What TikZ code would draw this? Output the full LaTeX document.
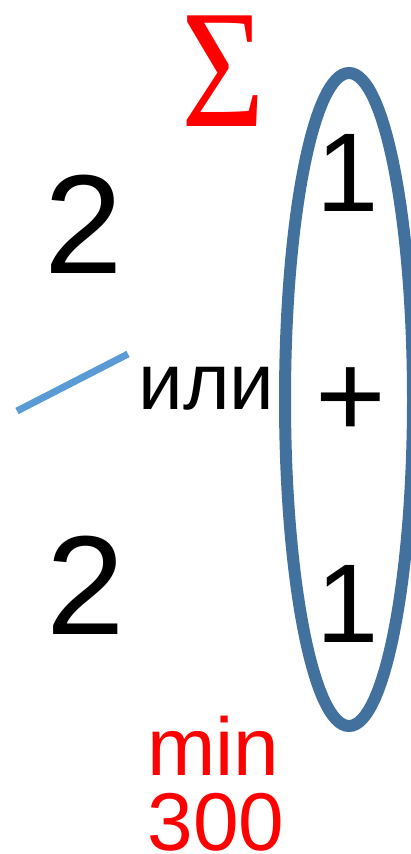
\documentclass[tikz,border=0pt]{standalone}
\usepackage{fontspec}
\setmainfont{Liberation Sans}
\newfontfamily\serifgr{Liberation Serif}
\usepackage{xcolor}
\definecolor{ovalblue}{RGB}{65,113,156}
\definecolor{slashblue}{RGB}{91,155,213}
\begin{document}
\begin{tikzpicture}[x=1pt, y=-1pt]
        \tikzset{digit/.style={inner sep=0, anchor=base, font=\fontsize{#1}{#1}\selectfont},
                 redtxt/.style={inner sep=0, anchor=base, text=red, font=\fontsize{82}{82}\selectfont},
                 oval/.style={ovalblue, line width=12pt}}
        \useasboundingbox (0,0) rectangle (410,854);

        % sum sign
        \node[inner sep=0, anchor=base, text=red, font=\serifgr\fontsize{169}{169}\selectfont] (sigma) at (223,126) {\scalebox{0.85}[1]{Σ}};

        % left column
        \node[digit=141] (twoTop) at (83.5,273) {2};
        \node[digit=141] (twoBot) at (85.5,634) {2};
        \coordinate (slashA) at (17,411);
        \coordinate (slashB) at (128,354);
        \draw[slashblue, line width=7pt] (slashA) -- (slashB);
        \node[digit=80] (ili) at (206.5,409) {или};

        % oval column
        \draw[oval] (349,399.5) ellipse [x radius=64, y radius=326.5];
        \node[digit=112] (oneTop) at (348,211) {1};
        \node[digit=121] (plus) at (350.5,437) {+};
        \node[digit=112] (oneBot) at (348,642) {1};

        % bottom
        \node[redtxt] (minLbl) at (213.5,775) {min};
        \node[redtxt] (valLbl) at (216,850) {300};
\end{tikzpicture}
\end{document}
